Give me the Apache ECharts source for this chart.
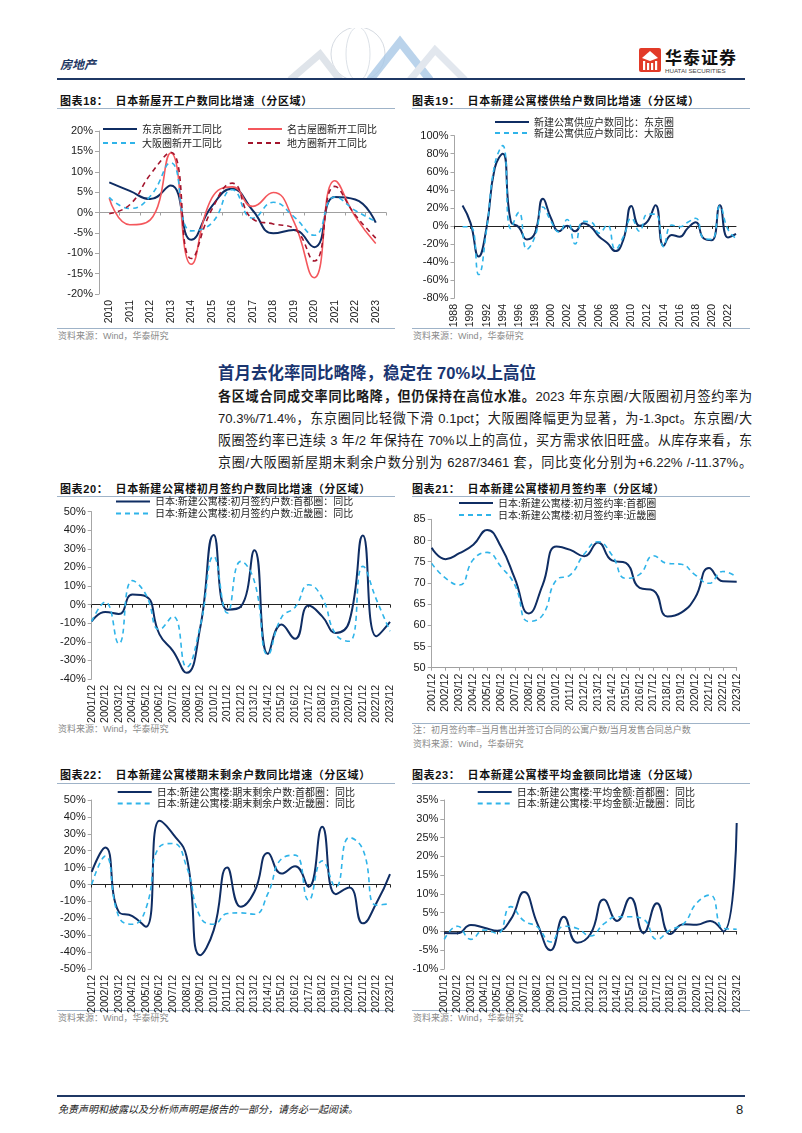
<!DOCTYPE html>
<html>
<head>
<meta charset="utf-8">
<script src="https://cdn.jsdelivr.net/npm/echarts@6/dist/echarts.min.js"></script>
<style>
  html,body{margin:0;padding:0;background:#fff;}
  #page{position:relative;width:802px;height:1133px;overflow:hidden;background:#fff;font-family:"Liberation Sans","Noto Sans CJK SC",sans-serif;}
  #chart{position:absolute;left:0;top:0;width:802px;height:1133px;}
  .abs{position:absolute;white-space:nowrap;}
  .ttl{font-size:11px;font-weight:bold;color:#111;line-height:14px;font-family:"Liberation Sans","Noto Sans CJK SC",sans-serif;letter-spacing:0.6px;}
  .hl{position:absolute;height:0;border-top:1px solid #9fb3c8;}
  .src{font-size:9px;color:#8a8a8a;line-height:12px;}
  .para{font-size:13.1px;color:#1a1a1a;line-height:18px;width:534px;text-align:justify;text-align-last:justify;white-space:nowrap;}
</style>
</head>
<body>
<div id="page">
  <!-- header -->
  <svg class="abs" style="left:270px;top:28px" width="220" height="52">
    <circle cx="88" cy="26" r="27" fill="none" stroke="#d6dbe2" stroke-width="1"/>
    <ellipse cx="88" cy="26" rx="12" ry="27" fill="none" stroke="#dde2e8" stroke-width="1"/>
    <polyline points="20,52 50,26 70,52" fill="none" stroke="#dfe4ea" stroke-width="7"/>
    <polyline points="100,52 130,14 160,52" fill="none" stroke="#a9c8e6" stroke-width="8" opacity="0.8"/>
    <polyline points="140,52 165,22 195,52" fill="none" stroke="#e2e7ee" stroke-width="7"/>
  </svg>
  <div class="abs" style="left:60px;top:55px;font-size:12px;font-style:italic;font-weight:bold;color:#1f3864;">房地产</div>
  <svg class="abs" style="left:639px;top:48px" width="22" height="24">
    <rect x="0" y="0" width="22" height="24" rx="2" fill="#e23a28"/>
    <polygon points="11,3 19,10 11,13 3,10" fill="#fff"/>
    <rect x="4" y="13" width="2.2" height="9" fill="#fff"/>
    <rect x="8" y="15" width="2.2" height="7" fill="#fff"/>
    <rect x="12" y="15" width="2.2" height="7" fill="#fff"/>
    <rect x="16" y="13" width="2.2" height="9" fill="#fff"/>
  </svg>
  <div class="abs" style="left:665px;top:47px;font-size:17px;font-weight:bold;color:#111;line-height:20px;letter-spacing:1px;font-family:'Noto Sans CJK SC',sans-serif;">华泰证券</div>
  <div class="abs" style="left:665px;top:67px;font-size:6.2px;color:#444;line-height:7px;">HUATAI SECURITIES</div>
  <div class="abs" style="left:57px;top:78px;width:688px;height:2px;background:#1f3864;"></div>

  <!-- chart titles -->
  <div class="abs ttl" style="left:60px;top:94px;">图表18：&nbsp;&nbsp;日本新屋开工户数同比增速（分区域）</div>
  <div class="hl" style="left:57px;top:108px;width:338px;"></div>
  <div class="abs ttl" style="left:412px;top:94px;">图表19：&nbsp;&nbsp;日本新建公寓楼供给户数同比增速（分区域）</div>
  <div class="hl" style="left:412px;top:108px;width:338px;"></div>
  <div class="hl" style="left:57px;top:328px;width:338px;"></div>
  <div class="hl" style="left:412px;top:328px;width:338px;"></div>
  <div class="abs src" style="left:58px;top:330px;">资料来源：Wind，华泰研究</div>
  <div class="abs src" style="left:413px;top:330px;">资料来源：Wind，华泰研究</div>

  <!-- text section -->
  <div class="abs" style="left:218px;top:362px;font-size:16.5px;font-weight:bold;color:#1a3570;line-height:22px;font-family:'Liberation Sans','Noto Sans CJK SC',sans-serif;">首月去化率同比略降，稳定在 70%以上高位</div>
  <div class="abs para" style="left:218px;top:388px;"><b>各区域合同成交率同比略降，但仍保持在高位水准。</b>2023 年东京圈/大阪圈初月签约率为</div>
  <div class="abs para" style="left:218px;top:410px;">70.3%/71.4%，东京圈同比轻微下滑 0.1pct；大阪圈降幅更为显著，为-1.3pct。东京圈/大</div>
  <div class="abs para" style="left:218px;top:432px;">阪圈签约率已连续 3 年/2 年保持在 70%以上的高位，买方需求依旧旺盛。从库存来看，东</div>
  <div class="abs para" style="left:218px;top:454px;">京圈/大阪圈新屋期末剩余户数分别为 6287/3461 套，同比变化分别为+6.22% /-11.37%。</div>

  <div class="abs ttl" style="left:60px;top:482px;">图表20：&nbsp;&nbsp;日本新建公寓楼初月签约户数同比增速（分区域）</div>
  <div class="hl" style="left:57px;top:496px;width:338px;"></div>
  <div class="abs ttl" style="left:412px;top:482px;">图表21：&nbsp;&nbsp;日本新建公寓楼初月签约率（分区域）</div>
  <div class="hl" style="left:412px;top:496px;width:338px;"></div>
  <div class="abs src" style="left:58px;top:723px;">资料来源：Wind，华泰研究</div>
  <div class="hl" style="left:412px;top:723px;width:338px;"></div>
  <div class="abs src" style="left:413px;top:724px;">注：初月签约率=当月售出并签订合同的公寓户数/当月发售合同总户数</div>
  <div class="abs src" style="left:413px;top:738px;">资料来源：Wind，华泰研究</div>

  <div class="abs ttl" style="left:60px;top:768px;">图表22：&nbsp;&nbsp;日本新建公寓楼期末剩余户数同比增速（分区域）</div>
  <div class="hl" style="left:57px;top:783px;width:338px;"></div>
  <div class="abs ttl" style="left:412px;top:768px;">图表23：&nbsp;&nbsp;日本新建公寓楼平均金额同比增速（分区域）</div>
  <div class="hl" style="left:412px;top:783px;width:338px;"></div>
  <div class="hl" style="left:57px;top:1010px;width:338px;"></div>
  <div class="hl" style="left:412px;top:1010px;width:338px;"></div>
  <div class="abs src" style="left:58px;top:1012px;">资料来源：Wind，华泰研究</div>
  <div class="abs src" style="left:413px;top:1012px;">资料来源：Wind，华泰研究</div>

  <!-- footer -->
  <div class="abs" style="left:57px;top:1095px;width:688px;height:2px;background:#1f3864;"></div>
  <div class="abs" style="left:58px;top:1103px;font-size:10px;font-style:italic;color:#222;line-height:14px;">免责声明和披露以及分析师声明是报告的一部分，请务必一起阅读。</div>
  <div class="abs" style="left:736px;top:1102px;font-size:13px;color:#222;line-height:16px;">8</div>

  <div id="chart"></div>
</div>
<script>
// ---------- data ----------
const years18 = ['2010','2011','2012','2013','2014','2015','2016','2017','2018','2019','2020','2021','2022','2023'];
const tokyoStart18  = [7.4, 5.3, 3.3, 6.6, -6.7, 1.5, 5.8, 0.5, -5.1, -4.3, -8.5, 3.8, 3.2, -2.5];
const nagoyaStart18 = [3.5, -3.0, -1.8, 14.6, -12.7, 3.5, 6.3, 1.5, 4.9, -2.2, -16.0, 7.8, -1.0, -7.6];
const osakaStart18  = [3.7, 1.0, 4.0, 12.2, -4.5, -2.6, 5.6, -1.4, 2.5, -1.0, -5.6, 3.8, 0.5, -2.2];
const localStart18  = [-0.3, 1.9, 9.3, 14.8, -11.3, 0.7, 7.2, -1.6, -2.8, -3.9, -11.9, 6.4, -0.6, -6.3];

const years19 = ['1988','1989','1990','1991','1992','1993','1994','1995','1996','1997','1998','1999','2000','2001','2002','2003','2004','2005','2006','2007','2008','2009','2010','2011','2012','2013','2014','2015','2016','2017','2018','2019','2020','2021','2022','2023'];
const tokyoSupply19 = [null, 22.5, 3, -34, -1, 64, 80, 5, -1.5, -15, -8, 30, 8.5, -6, 0, -6, 3, -1.5, -12, -19, -28, -15, 22, 0, 5, 23, -22, -10, -12, -2.5, 4, -14, -16, 23, -13, -9];
const osakaSupply19 = [null, -1, -1, -54, -3, 68, 89, -3, 15, -26, -12, 21, 5, -7, 7, -20, 5, 4, -8, 1, -26, -12, 8.5, -6, 13, 13, -23, 1, -1, 4, 8.5, -14, -15, 22, -4, -14];

const months = ['2001/12','2002/12','2003/12','2004/12','2005/12','2006/12','2007/12','2008/12','2009/12','2010/12','2011/12','2012/12','2013/12','2014/12','2015/12','2016/12','2017/12','2018/12','2019/12','2020/12','2021/12','2022/12','2023/12'];
const tokyoContract20 = [-9, -4, -5, 5.4, 4.5, -16, -25, -36.7, -12.5, 37.5, -2.7, -1, 29.3, -26.5, -10.7, -18.4, -0.5, -6.3, -15.2, -9, 37.2, -17, -9.3];
const kinkiContract20 = [-9, 1.4, -21, 12.9, 5.4, -13.4, -6.3, -33.6, -11.6, 26, -4.5, 23.3, 12.5, -26.8, -6.8, -1.4, 10.7, 3.6, -16, -19.7, 20.6, 2.7, -14.3];

const tokyoRate21 = [78.3, 75.6, 77.0, 79.0, 82.5, 78.5, 71.0, 62.8, 69.5, 78.6, 77.8, 76.3, 79.5, 75.3, 74.7, 68.8, 68.2, 62.1, 63.0, 66.5, 73.5, 70.4, 70.3];
const kinkiRate21  = [74.6, 71.1, 69.5, 75.5, 77.2, 73.8, 69.5, 60.9, 62.4, 70.7, 71.9, 76.8, 79.7, 76.6, 71.1, 72.0, 76.4, 74.6, 74.4, 71.9, 69.9, 72.7, 71.4];

const tokyoStock22 = [7.5, 21.9, -16.2, -18.7, -25, 37.7, 29.8, 16.4, -41.8, -27, 10, -13.2, -4.3, 18.7, 6.5, 10.8, -1.4, 34.1, -5.7, -1.8, -23, -11, 6.2];
const kinkiStock22 = [0, 16.8, -19.1, -23.5, -14.2, 22.3, 24.3, 10.5, -19.1, -23.5, -17.2, -16.8, -17.6, -5.3, 15.2, 17.4, -9.3, 14, -1.4, 27.8, 20.7, -12.2, -11.4];

const tokyoPrice23 = [-0.4, -0.5, 1.7, 1.0, 0.2, 3.2, 10.5, 2.1, -5, 3.9, -3, -0.7, 8.5, 2.8, 9, -0.4, 7.5, -0.7, 1.9, 1.8, 2.8, 0, 28.9];
const kinkiPrice23 = [-2.1, 1.4, -2.1, 0.4, -0.5, 6.6, 2.8, 1.2, -2.8, 1.4, 0.8, -1.2, 2, 3.9, 3.9, 3.2, -2.1, 0.4, 2, 7.6, 9.7, 0.8, 0.6];

// ---------- styles ----------
const NAVY = '#0f2d63', CYAN = '#2fb4e9', SALMON = '#f4575c', DARKRED = '#a3142c';
const LABEL_FONT = 'Liberation Sans';

const grids = [], xAxes = [], yAxes = [], series = [], legends = [];

function addChart(c) {
  const gi = grids.length;
  grids.push({left: c.l, top: c.t, width: c.w, height: c.h, containLabel: false});
  xAxes.push({
    type: 'category', gridIndex: gi, data: c.cats, boundaryGap: c.bg,
    axisLine: {show: true, onZero: true, lineStyle: {color: c.zc, width: 1}},
    axisTick: {show: true, length: 3, interval: c.ti, lineStyle: {color: c.zc}},
    axisLabel: {show: false}, splitLine: {show: false}
  });
  xAxes.push({
    type: 'category', gridIndex: gi, position: 'bottom', data: c.cats, boundaryGap: c.bg,
    axisLine: {show: false, onZero: false}, axisTick: {show: false},
    axisLabel: {rotate: 90, interval: c.li, fontSize: 10.5, color: '#1a1a1a', margin: 6, fontFamily: LABEL_FONT},
    splitLine: {show: false}
  });
  yAxes.push({
    type: 'value', gridIndex: gi, min: c.min, max: c.max, interval: c.iv,
    axisLine: {show: true, onZero: false, lineStyle: {color: '#a6a6a6'}},
    axisTick: {show: true, length: 4, lineStyle: {color: '#a6a6a6'}},
    splitLine: {show: false},
    axisLabel: {formatter: c.pct ? '{value}%' : '{value}', fontSize: 11, color: '#1a1a1a', margin: 6, fontFamily: LABEL_FONT}
  });
  c.series.forEach(s => {
    series.push({
      type: 'line', name: s.name, xAxisIndex: 2 * gi, yAxisIndex: gi, data: s.data,
      smooth: 0.5, symbol: 'none', showSymbol: false, connectNulls: false,
      lineStyle: {color: s.color, width: s.w, type: s.dash ? [5, 4] : 'solid'},
      itemStyle: {color: s.color}, z: 3
    });
  });
  c.legends.forEach(L => {
    legends.push({
      data: L.names, left: L.x, top: L.y, orient: 'vertical', itemGap: L.gap || 2,
      itemWidth: 34, itemHeight: 10, selectedMode: false, padding: 0,
      itemStyle: {opacity: 0, borderWidth: 0},
      textStyle: {fontSize: 10, color: '#222', fontFamily: 'Noto Sans CJK SC'}
    });
  });
}

// chart 18
addChart({
  l: 99, t: 131, w: 287, h: 163, cats: years18, bg: true, zc: '#a0a0a0', ti: 0, li: 0,
  min: -20, max: 20, iv: 5, pct: true,
  series: [
    {name: '东京圈新开工同比', data: tokyoStart18, color: NAVY, w: 2},
    {name: '名古屋圈新开工同比', data: nagoyaStart18, color: SALMON, w: 1.6},
    {name: '大阪圈新开工同比', data: osakaStart18, color: CYAN, w: 1.6, dash: true},
    {name: '地方圈新开工同比', data: localStart18, color: DARKRED, w: 1.6, dash: true}
  ],
  legends: [
    {names: ['东京圈新开工同比', '大阪圈新开工同比'], x: 102, y: 124, gap: 4},
    {names: ['名古屋圈新开工同比', '地方圈新开工同比'], x: 247, y: 124, gap: 4}
  ]
});
// chart 19
addChart({
  l: 454.5, t: 135.7, w: 281.5, h: 162.3, cats: years19, bg: false, zc: '#222', ti: 1, li: 1,
  min: -80, max: 100, iv: 20, pct: true,
  series: [
    {name: '新建公寓供应户数同比：东京圈', data: tokyoSupply19, color: NAVY, w: 2},
    {name: '新建公寓供应户数同比：大阪圈', data: osakaSupply19, color: CYAN, w: 1.6, dash: true}
  ],
  legends: [{names: ['新建公寓供应户数同比：东京圈', '新建公寓供应户数同比：大阪圈'], x: 494, y: 117, gap: 1}]
});
// chart 20
addChart({
  l: 91.7, t: 511.7, w: 298.3, h: 167.3, cats: months, bg: false, zc: '#222', ti: 0, li: 0,
  min: -40, max: 50, iv: 10, pct: true,
  series: [
    {name: '日本:新建公寓楼:初月签约户数:首都圈：同比', data: tokyoContract20, color: NAVY, w: 2},
    {name: '日本:新建公寓楼:初月签约户数:近畿圈：同比', data: kinkiContract20, color: CYAN, w: 1.6, dash: true}
  ],
  legends: [{names: ['日本:新建公寓楼:初月签约户数:首都圈：同比', '日本:新建公寓楼:初月签约户数:近畿圈：同比'], x: 115, y: 496.5, gap: 2}]
});
// chart 21
addChart({
  l: 431.7, t: 519.3, w: 305, h: 148.4, cats: months, bg: false, zc: '#a0a0a0', ti: 0, li: 0,
  min: 50, max: 85, iv: 5, pct: false,
  series: [
    {name: '日本:新建公寓楼:初月签约率:首都圈', data: tokyoRate21, color: NAVY, w: 2},
    {name: '日本:新建公寓楼:初月签约率:近畿圈', data: kinkiRate21, color: CYAN, w: 1.6, dash: true}
  ],
  legends: [{names: ['日本:新建公寓楼:初月签约率:首都圈', '日本:新建公寓楼:初月签约率:近畿圈'], x: 458, y: 498, gap: 2}]
});
// chart 22
addChart({
  l: 91.7, t: 800, w: 298.3, h: 169, cats: months, bg: false, zc: '#222', ti: 0, li: 0,
  min: -50, max: 50, iv: 10, pct: true,
  series: [
    {name: '日本:新建公寓楼:期末剩余户数:首都圈：同比', data: tokyoStock22, color: NAVY, w: 2},
    {name: '日本:新建公寓楼:期末剩余户数:近畿圈：同比', data: kinkiStock22, color: CYAN, w: 1.6, dash: true}
  ],
  legends: [{names: ['日本:新建公寓楼:期末剩余户数:首都圈：同比', '日本:新建公寓楼:期末剩余户数:近畿圈：同比'], x: 116.7, y: 787, gap: 1.5}]
});
// chart 23
addChart({
  l: 444.3, t: 800, w: 292.4, h: 169, cats: months, bg: false, zc: '#333', ti: 0, li: 0,
  min: -10, max: 35, iv: 5, pct: true,
  series: [
    {name: '日本:新建公寓楼:平均金额:首都圈：同比', data: tokyoPrice23, color: NAVY, w: 2},
    {name: '日本:新建公寓楼:平均金额:近畿圈：同比', data: kinkiPrice23, color: CYAN, w: 1.6, dash: true}
  ],
  legends: [{names: ['日本:新建公寓楼:平均金额:首都圈：同比', '日本:新建公寓楼:平均金额:近畿圈：同比'], x: 476.7, y: 787, gap: 1.5}]
});

const chart = echarts.init(document.getElementById('chart'), null, {renderer: 'canvas'});
chart.setOption({
  animation: false,
  backgroundColor: 'transparent',
  grid: grids, xAxis: xAxes, yAxis: yAxes, series: series, legend: legends
});
</script>
</body>
</html>
